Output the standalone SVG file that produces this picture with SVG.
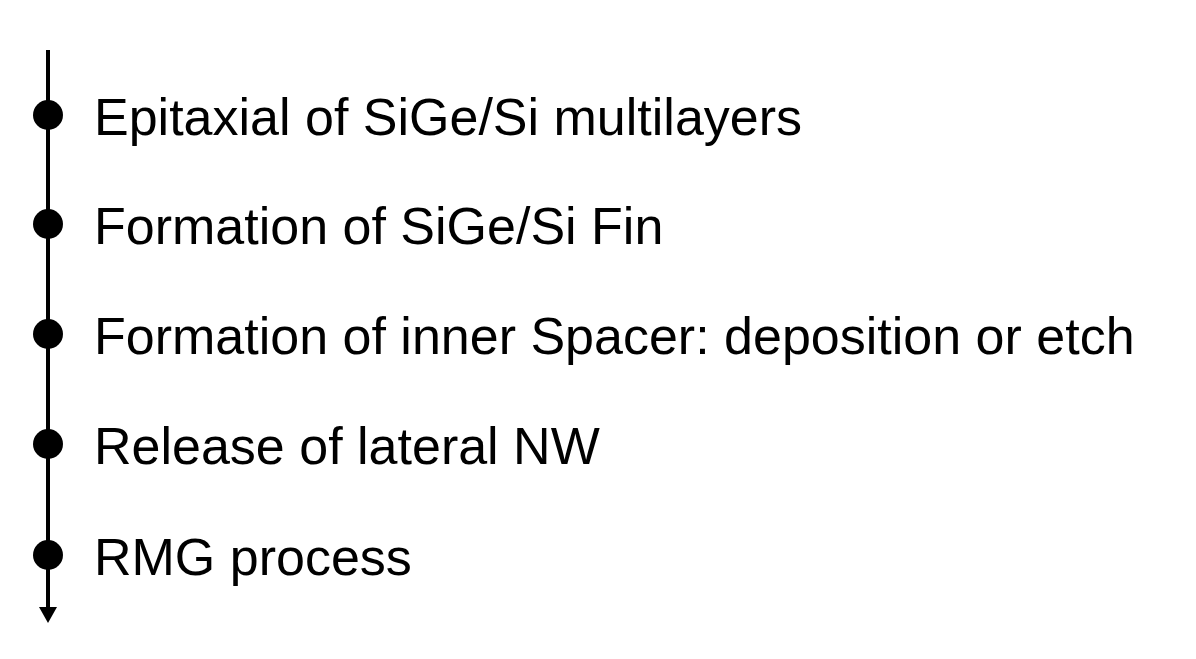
<svg xmlns="http://www.w3.org/2000/svg" width="1196" height="659" viewBox="0 0 1196 659">
<style>
.t{font-family:"Liberation Sans",Arial,sans-serif;font-size:52px;fill:#000}
.d{fill:#000}
</style>
<rect width="1196" height="659" fill="#fff"/>
<g id="connectors">
<line x1="48" y1="50" x2="48" y2="608" stroke="#000" stroke-width="4"/>
<path d="M39,607 L57,607 L48,623 Z" fill="#000"/>
</g>
<g id="n1"><circle class="d" cx="48" cy="115" r="15"/><text class="t" x="94" y="135">Epitaxial of SiGe/Si multilayers</text></g>
<g id="n2"><circle class="d" cx="48" cy="224" r="15"/><text class="t" x="94" y="244">Formation of SiGe/Si Fin</text></g>
<g id="n3"><circle class="d" cx="48" cy="334" r="15"/><text class="t" x="94" y="354">Formation of inner Spacer: deposition or etch</text></g>
<g id="n4"><circle class="d" cx="48" cy="444" r="15"/><text class="t" x="94" y="464">Release of lateral NW</text></g>
<g id="n5"><circle class="d" cx="48" cy="555" r="15"/><text class="t" x="94" y="575">RMG process</text></g>
</svg>
